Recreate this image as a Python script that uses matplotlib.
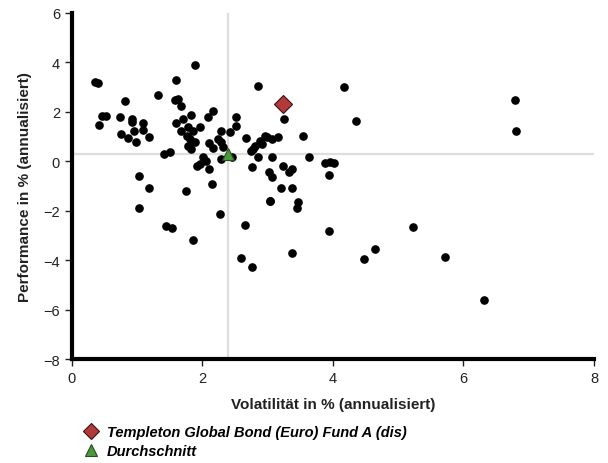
import matplotlib.pyplot as plt
from matplotlib.lines import Line2D

plt.rcParams["font.family"] = ["Liberation Sans", "DejaVu Sans"]

# Peer group funds: volatility (x) and performance (y), both in % p.a.
peer_vol = [
    0.35, 0.40, 0.81, 0.46, 0.52, 0.41, 0.74, 0.93, 0.93, 1.09, 1.09, 0.95,
    0.76, 0.86, 0.98, 1.19, 1.32, 1.59, 1.89, 1.58, 1.62, 1.68, 1.83, 1.71,
    1.60, 1.78, 1.96, 1.68, 1.86, 1.76, 1.81, 1.89, 1.78, 1.83, 2.17, 2.09,
    2.52, 2.52, 2.29, 2.42, 2.24, 2.29, 2.32, 2.11, 2.17, 2.67, 1.42, 1.50,
    2.01, 2.06, 1.96, 2.11, 1.92, 2.29, 2.45, 2.76, 1.03, 1.19, 1.03, 1.44,
    1.53, 1.75, 1.85, 2.15, 2.27, 2.65, 2.60, 2.76,
    2.85, 3.25, 4.17, 4.36, 2.96, 2.99, 3.06, 3.16, 2.88, 2.91, 2.80, 2.78,
    2.75, 3.54, 2.86, 3.06, 3.63, 3.02, 3.06, 3.04, 3.24, 3.33, 3.37, 3.21,
    3.37, 3.04, 3.47, 3.45, 3.88, 3.95, 4.02, 3.94, 3.94, 5.22, 3.38, 4.64,
    4.47, 5.71, 6.79, 6.80, 6.31,
]
peer_perf = [
    3.22, 3.15, 2.45, 1.85, 1.85, 1.47, 1.78, 1.71, 1.58, 1.54, 1.27, 1.24,
    1.10, 0.93, 0.79, 1.00, 2.68, 3.30, 3.91, 2.47, 2.52, 2.25, 1.89, 1.71,
    1.53, 1.40, 1.38, 1.24, 1.21, 1.04, 0.90, 0.77, 0.63, 0.50, 2.05, 1.78,
    1.78, 1.42, 1.24, 1.17, 0.90, 0.77, 0.57, 0.73, 0.54, 0.94, 0.30, 0.36,
    0.16, 0.02, -0.11, -0.31, -0.18, 0.09, 0.16, -0.24, -0.60, -1.09, -1.90, -2.61,
    -2.70, -1.21, -3.17, -0.92, -2.13, -2.57, -3.91, -4.27,
    3.06, 1.71, 3.00, 1.64, 1.04, 1.00, 0.90, 0.97, 0.83, 0.70, 0.63, 0.50,
    0.43, 1.04, 0.16, 0.16, 0.16, -0.42, -0.65, -1.60, -0.18, -0.42, -0.31, -1.08,
    -1.09, -1.60, -1.64, -1.90, -0.07, -0.02, -0.07, -0.55, -2.81, -2.67, -3.71, -3.55,
    -3.96, -3.89, 2.49, 1.21, -5.60,
]

fund_name = "Templeton Global Bond (Euro) Fund A (dis)"
fund_vol = 3.24
fund_perf = 2.33

avg_name = "Durchschnitt"
avg_vol = 2.40
avg_perf = 0.30

fig = plt.figure(figsize=(6.08, 4.64), dpi=100)
ax = fig.add_axes([0.118, 0.224, 0.859, 0.746])

# average cross-hair
ax.axvline(avg_vol, color="#dddddd", lw=1.6, zorder=1)
ax.axhline(avg_perf, color="#dddddd", lw=1.6, zorder=1)

ax.plot(peer_vol, peer_perf, "o", color="black", ms=5.2, zorder=2)
ax.plot(avg_vol, avg_perf, "^", color="#4a9a3c", mec="#2a4a20", mew=0.8,
        ms=8, zorder=3)
ax.plot(fund_vol, fund_perf, "D", color="#b23a3a", mec="#3a1010", mew=0.8,
        ms=9, zorder=4)

ax.set_xlim(0, 8)
ax.set_ylim(-8, 6)
ax.set_xticks([0, 2, 4, 6, 8])
ax.set_yticks([-8, -6, -4, -2, 0, 2, 4, 6])
ax.set_yticklabels(["\u22128", "\u22126", "\u22124", "\u22122", "0", "2", "4", "6"])

for side in ["top", "right"]:
    ax.spines[side].set_visible(False)
for side in ["left", "bottom"]:
    ax.spines[side].set_linewidth(3)
ax.tick_params(direction="out", length=5, width=1, labelsize=10.5,
               colors="#222222")

ax.set_xlabel("Volatilität in % (annualisiert)", fontsize=11, fontweight="bold",
              color="#222222", labelpad=9)
ax.set_ylabel("Performance in % (annualisiert)", fontsize=11, fontweight="bold",
              color="#222222", labelpad=8)

handles = [
    Line2D([], [], ls="none", marker="D", color="#b23a3a", mec="#3a1010",
           mew=0.8, ms=8, label=fund_name),
    Line2D([], [], ls="none", marker="^", color="#4a9a3c", mec="#2a4a20",
           mew=0.8, ms=9, label=avg_name),
]
fig.legend(handles=handles, loc="upper left", bbox_to_anchor=(0.125, 0.095),
           frameon=False, handletextpad=0.5, handlelength=1.2,
           labelspacing=0.35, borderaxespad=0,
           prop={"style": "italic", "weight": "bold", "size": 10.5})

fig.savefig("out.png", dpi=100)
